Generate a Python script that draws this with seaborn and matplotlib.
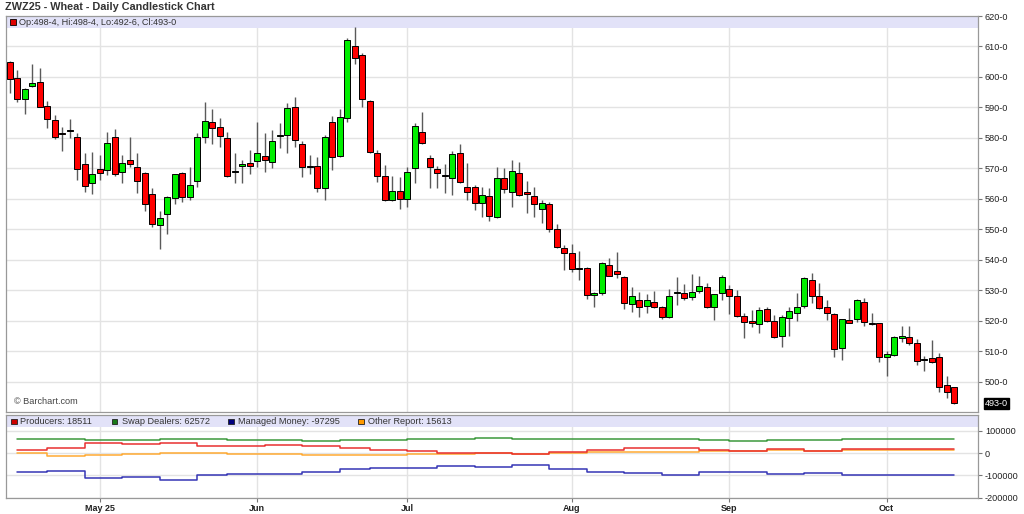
import numpy as np
import pandas as pd
import matplotlib
matplotlib.use("Agg")
import matplotlib.pyplot as plt
import matplotlib.transforms as mtransforms
from matplotlib.patches import Rectangle
import seaborn as sns

sns.set_theme(style="white")
plt.rcParams["font.family"] = ["Liberation Sans", "DejaVu Sans"]

# ---------------- data ----------------
start_date = "2025-04-14"
end_date = "2025-10-14"
holidays = ["2025-04-18", "2025-05-26", "2025-06-19", "2025-07-04", "2025-09-01"]

open_ = [605.0, 599.6, 592.7, 597.2, 598.5, 590.5, 585.9, 581.6, 582.4, 580.4,
         571.5, 565.1, 569.8, 569.5, 580.4, 569.0, 572.8, 570.4, 568.6, 561.6,
         551.4, 555.1, 560.2, 568.4, 560.8, 565.9, 580.2, 585.1, 583.7, 580.1,
         568.7, 570.8, 571.7, 572.6, 574.1, 572.0, 580.8, 581.0, 590.3, 578.0,
         570.6, 570.8, 563.5, 585.4, 574.2, 586.5, 610.0, 607.2, 592.1, 575.2,
         567.7, 559.7, 562.7, 560.0, 570.1, 582.1, 573.6, 569.7, 567.5, 566.8,
         575.2, 564.0, 564.0, 558.6, 561.0, 554.0, 567.0, 562.4, 568.6, 562.4,
         561.0, 556.7, 558.4, 550.1, 543.8, 542.4, 536.9, 537.5, 528.5, 529.1,
         538.4, 536.4, 534.5, 525.6, 526.9, 524.9, 526.3, 524.7, 521.2, 529.1,
         529.1, 528.0, 529.8, 531.3, 524.5, 529.1, 530.5, 528.3, 521.7, 520.1,
         518.9, 524.0, 520.0, 515.1, 520.9, 522.7, 524.9, 533.4, 528.3, 524.7,
         522.2, 511.0, 520.3, 520.5, 526.1, 519.5, 519.2, 508.3, 508.8, 514.3,
         514.9, 512.9, 507.2, 508.0, 508.3, 499.0, 498.5]
high_ = [605.3, 602.3, 596.3, 604.3, 602.8, 592.1, 587.5, 583.7, 586.2, 581.5,
         575.2, 575.5, 574.4, 581.9, 582.9, 574.4, 580.4, 575.2, 568.9, 563.5,
         556.2, 561.0, 568.3, 568.9, 570.6, 581.8, 591.9, 589.4, 586.4, 582.0,
         575.0, 572.8, 576.1, 585.4, 581.8, 582.6, 585.0, 591.6, 593.6, 579.0,
         574.4, 573.7, 580.9, 587.2, 589.4, 612.7, 616.3, 608.0, 592.6, 576.0,
         571.2, 567.6, 567.3, 570.6, 585.0, 588.4, 574.4, 570.9, 571.5, 575.6,
         578.0, 571.9, 564.6, 564.0, 563.6, 570.4, 570.1, 572.8, 572.0, 566.0,
         563.8, 559.7, 558.9, 551.8, 544.9, 545.2, 542.9, 537.6, 529.4, 539.2,
         540.8, 542.7, 534.7, 531.0, 529.6, 528.8, 529.8, 525.0, 530.5, 534.3,
         532.1, 535.3, 534.8, 532.4, 528.8, 535.1, 531.8, 530.0, 522.5, 523.6,
         524.5, 524.7, 522.0, 521.9, 524.5, 529.1, 534.5, 535.6, 532.3, 526.9,
         522.6, 520.8, 524.4, 527.1, 527.6, 522.5, 519.5, 510.2, 515.0, 518.4,
         518.4, 514.0, 508.5, 513.8, 509.4, 501.8, 498.5]
low_ = [594.9, 591.9, 587.8, 596.8, 590.0, 583.2, 579.8, 575.8, 579.9, 566.2,
        562.4, 561.7, 566.2, 567.9, 567.6, 565.1, 570.6, 562.1, 556.2, 550.7,
        543.5, 548.4, 558.4, 559.0, 559.7, 564.0, 578.3, 578.0, 577.2, 567.3,
        565.1, 565.1, 568.2, 570.6, 569.0, 570.3, 576.8, 575.2, 577.2, 567.3,
        568.2, 562.4, 559.7, 569.5, 573.9, 585.4, 604.3, 590.1, 575.0, 565.5,
        559.2, 559.4, 556.6, 557.5, 565.1, 578.0, 563.5, 563.5, 562.1, 561.3,
        565.1, 559.7, 556.4, 554.2, 552.7, 553.7, 562.1, 557.5, 561.0, 555.3,
        554.0, 552.0, 549.3, 543.8, 536.7, 536.2, 533.4, 527.2, 524.7, 528.6,
        534.6, 534.0, 523.8, 523.1, 521.4, 522.5, 524.2, 520.5, 520.9, 525.2,
        526.9, 526.9, 529.1, 524.2, 520.3, 526.9, 522.2, 521.4, 514.3, 517.9,
        516.0, 519.8, 514.3, 511.6, 515.1, 520.1, 524.1, 525.8, 523.8, 520.3,
        508.3, 507.2, 519.2, 519.8, 518.4, 518.7, 506.7, 502.0, 508.5, 513.2,
        512.1, 505.6, 503.7, 506.2, 496.8, 494.6, 492.75]
close_ = [599.2, 592.7, 596.0, 598.1, 590.3, 586.1, 580.2, 581.2, 582.4, 569.7,
          564.3, 568.2, 568.4, 578.5, 568.2, 571.9, 571.4, 565.9, 558.5, 551.8,
          553.8, 560.8, 568.1, 560.8, 564.5, 580.2, 585.6, 583.4, 580.8, 567.7,
          568.7, 571.5, 570.9, 575.0, 572.8, 579.0, 581.1, 589.7, 579.4, 570.4,
          570.6, 563.5, 580.4, 573.9, 587.0, 612.1, 606.1, 592.7, 575.5, 567.7,
          559.7, 562.7, 560.0, 569.0, 584.0, 578.5, 570.4, 568.4, 567.5, 574.8,
          565.5, 562.2, 558.6, 561.4, 554.3, 567.0, 563.3, 569.3, 561.3, 561.5,
          558.4, 558.6, 550.1, 544.4, 542.4, 536.9, 536.9, 528.5, 529.1, 538.9,
          534.8, 535.4, 525.8, 528.3, 524.7, 526.9, 524.7, 521.4, 528.3, 529.6,
          527.4, 529.6, 531.6, 524.5, 528.8, 534.3, 528.3, 521.7, 519.6, 519.2,
          523.6, 520.1, 514.9, 521.4, 523.4, 524.7, 534.0, 528.3, 524.4, 522.5,
          510.7, 520.5, 519.5, 526.9, 519.8, 519.0, 508.1, 509.1, 514.6, 515.1,
          512.9, 506.9, 507.2, 506.5, 498.3, 496.8, 493.0]

report_dates = ["2025-04-15", "2025-04-22", "2025-04-29", "2025-05-06", "2025-05-13",
                "2025-05-20", "2025-05-27", "2025-06-03", "2025-06-10", "2025-06-17",
                "2025-06-24", "2025-07-01", "2025-07-08", "2025-07-15", "2025-07-22",
                "2025-07-29", "2025-08-05", "2025-08-12", "2025-08-19", "2025-08-26",
                "2025-09-02", "2025-09-09", "2025-09-16", "2025-09-23"]
producers = [16000, 24000, 46000, 39000, 46000, 34000, 30000, 36000, 30000, 24000,
             12000, 9000, 1500, 0, -3000, 4500, 12000, 21000, 24000, 16000,
             9000, 19000, 9000, 18511]
swap_dealers = [64000, 64000, 60000, 60000, 62500, 62500, 59500, 59500, 55000, 58000,
                58000, 62500, 62500, 67000, 64000, 64000, 64000, 64000, 65500, 59500,
                56500, 61000, 61000, 62572]
managed_money = [-87000, -79000, -114000, -106000, -121000, -100000, -94000, -94000, -85000, -70000,
                 -66000, -66000, -58000, -63000, -54000, -70000, -84000, -91000, -99000, -84000,
                 -84000, -94000, -88000, -97295]
other_report = [0, -13600, -7600, -3000, 1400, 1400, -6000, -3000, -7600, -9000,
                -9000, -6000, -3000, 0, -2000, 0, 4400, 6000, 4400, 8000,
                9000, 12000, 9000, 15613]

month_labels = ["May 25", "Jun", "Jul", "Aug", "Sep", "Oct"]
price_ticks = list(range(500, 621, 10))
cot_ticks = [-200000, -100000, 0, 100000]
last_label = "493-0"
header_text = "Op:498-4, Hi:498-4, Lo:492-6, Cl:493-0"

# ---------------- derived ----------------
dates = pd.bdate_range(start_date, end_date, freq="C", holidays=holidays)
xi = np.arange(len(dates))
o = np.array(open_); h = np.array(high_); l = np.array(low_); c = np.array(close_)

GREEN = "#00ee00"
RED = "#ff0000"
colors = np.where(c > o, GREEN, np.where(c < o, RED, "black"))
body_bottom = np.minimum(o, c)
body_h = np.abs(c - o)
body_h = np.where(body_h < 0.3, 0.35, body_h)

month_pos = []
for m in [5, 6, 7, 8, 9, 10]:
    month_pos.append(int(np.where(dates.month == m)[0][0]))

date_to_idx = {d.strftime("%Y-%m-%d"): i for i, d in enumerate(dates)}
rep_x = [date_to_idx[d] for d in report_dates] + [len(dates) - 1]

def ext(vals):
    return list(vals) + [vals[-1]]

cot = pd.DataFrame({
    "x": rep_x * 4,
    "value": ext(swap_dealers) + ext(other_report) + ext(producers) + ext(managed_money),
    "series": (["Swap Dealers"] * len(rep_x) + ["Other Report"] * len(rep_x)
               + ["Producers"] * len(rep_x) + ["Managed Money"] * len(rep_x)),
})
line_colors = {"Swap Dealers": "#3c983c", "Other Report": "#ffaa33",
               "Producers": "#e83030", "Managed Money": "#3535b5"}

# ---------------- layout ----------------
W, H = 1024, 514
fig = plt.figure(figsize=(W / 100, H / 100), dpi=100)
fig.patch.set_facecolor("white")

def fx(px):
    return px / W

def fy(py):
    return 1 - py / H

x_left, x_right = 6, 978
ax1 = fig.add_axes([fx(x_left), fy(412), (x_right - x_left) / W, (412 - 16) / H])
ax2 = fig.add_axes([fx(x_left), fy(497.5), (x_right - x_left) / W, (497.5 - 415) / H])

xmin, xmax = -0.53, 129.2
GRID = "#e3e3e3"
SPINE = "#999999"
TXT = "#222222"
FS = 6.6

# ---- main candlestick panel ----
ax1.set_xlim(xmin, xmax)
ax1.set_ylim(490.16, 620)
ax1.set_facecolor("white")
ax1.vlines(xi, l, h, color="#5a5a5a", lw=1.0, zorder=2)
ax1.bar(xi, body_h, bottom=body_bottom, width=0.8, color=colors,
        edgecolor="black", linewidth=0.7, zorder=3)
ax1.set_yticks(price_ticks)
ax1.set_yticklabels([f"{t}-0" for t in price_ticks])
ax1.yaxis.tick_right()
ax1.set_xticks(month_pos)
ax1.set_xticklabels([])
ax1.tick_params(axis="x", length=0)
ax1.tick_params(axis="y", length=3, width=0.8, color="#777777", pad=2,
                labelsize=FS, labelcolor=TXT, right=True, left=False)
ax1.grid(True, color=GRID, lw=1.0, zorder=0)
ax1.set_axisbelow(True)
for s in ax1.spines.values():
    s.set_color(SPINE); s.set_linewidth(0.9)
band_h1 = 11.5 / 396
ax1.add_patch(Rectangle((0, 1 - band_h1), 1, band_h1, transform=ax1.transAxes,
                        facecolor="#e2e2f8", edgecolor="none", zorder=1))
ax1.add_patch(Rectangle((fx(10), fy(25.3)), fx(6), 6 / H, transform=fig.transFigure,
                        facecolor="#dd0000", edgecolor="black", lw=0.6, zorder=5))
fig.text(fx(19), fy(22.2), header_text, fontsize=FS, color="#333333",
         va="center", ha="left")
fig.text(fx(14), fy(401), "\u00a9 Barchart.com", fontsize=FS, color="#444444",
         va="center", ha="left")
trans = mtransforms.blended_transform_factory(ax1.transAxes, ax1.transData)
ax1.text((985 - x_left) / (x_right - x_left), close_[-1], last_label, transform=trans,
         fontsize=FS, color="white", va="center", ha="left",
         bbox=dict(boxstyle="square,pad=0.12", facecolor="black", edgecolor="black"))
fig.text(fx(5), fy(7), "ZWZ25 - Wheat - Daily Candlestick Chart", fontsize=7.8,
         fontweight="bold", color="#333333", va="center", ha="left")

# ---- COT panel ----
for name in ["Swap Dealers", "Other Report", "Producers", "Managed Money"]:
    sub = cot[cot["series"] == name]
    sns.lineplot(data=sub, x="x", y="value", ax=ax2, color=line_colors[name],
                 drawstyle="steps-post", lw=1.1, legend=False, zorder=3)
ax2.set_xlim(xmin, xmax)
ax2.set_ylim(-200000, 171700)
ax2.set_xlabel(""); ax2.set_ylabel("")
ax2.set_yticks(cot_ticks)
ax2.set_yticklabels([str(t) for t in cot_ticks])
ax2.yaxis.tick_right()
ax2.set_xticks(month_pos)
ax2.set_xticklabels(month_labels, fontweight="bold")
ax2.tick_params(axis="y", length=3, width=0.8, color="#777777", pad=2,
                labelsize=FS, labelcolor=TXT, right=True, left=False)
ax2.tick_params(axis="x", length=3, width=0.8, color="#777777", pad=2,
                labelsize=6.5, labelcolor=TXT, bottom=True)
ax2.grid(True, color=GRID, lw=1.0, zorder=0)
ax2.set_axisbelow(True)
for s in ax2.spines.values():
    s.set_color(SPINE); s.set_linewidth(0.9)
band_h2 = 12 / 82.5
ax2.add_patch(Rectangle((0, 1 - band_h2), 1, band_h2, transform=ax2.transAxes,
                        facecolor="#e2e2f8", edgecolor="none", zorder=1))

leg_items = [
    (11, 20, "#cc0000", f"Producers: {producers[-1]}"),
    (111.7, 121.7, "#1a7a1a", f"Swap Dealers: {swap_dealers[-1]}"),
    (228.3, 237.7, "#000080", f"Managed Money: {managed_money[-1]}"),
    (358.3, 367.7, "#ff9900", f"Other Report: {other_report[-1]}"),
]
for sq_x, tx, col, label in leg_items:
    fig.patches.append(Rectangle((fx(sq_x), fy(424.3)), fx(5.5), 5.5 / H,
                                 transform=fig.transFigure, facecolor=col,
                                 edgecolor="#222222", lw=0.6, zorder=5))
    fig.text(fx(tx), fy(421.3), label, fontsize=FS, color="#333333",
             va="center", ha="left")

fig.savefig("out.png", dpi=100, facecolor="white")
